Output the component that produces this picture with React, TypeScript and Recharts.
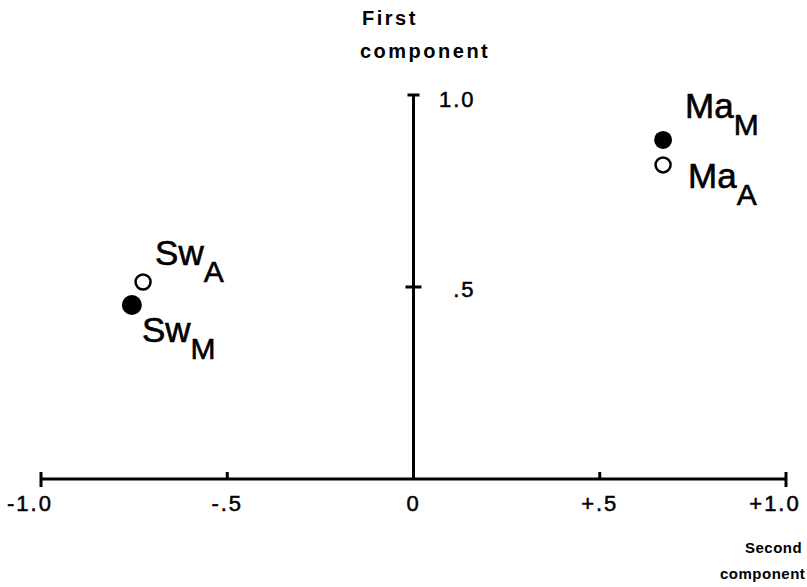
import React from 'react';
import { ScatterChart, Scatter, XAxis, YAxis, ReferenceLine } from 'recharts';

const W = 807;
const H = 587;
const MARGIN = { top: 95, right: 21, bottom: 68, left: 40 };
const X_AXIS_H = 40;
const Y_AXIS_W = 1;
const ZERO_X = MARGIN.left + Y_AXIS_W + (W - MARGIN.left - Y_AXIS_W - MARGIN.right) / 2;
const FONT = '"Liberation Sans", Arial, sans-serif';

// groups and their condition subscripts
const names = ['Sw', 'Sw', 'Ma', 'Ma'];
const subscripts = ['A', 'M', 'M', 'A'];
const secondComponent = [-0.726, -0.756, 0.67, 0.67];
const firstComponent = [0.513, 0.453, 0.883, 0.818];
const solid = [false, true, true, false];

const xTicks = [-1, -0.5, 0, 0.5, 1];
const xTickLabels = ['-1.0', '-.5', '0', '+.5', '+1.0'];
const yTicks = [0.5, 1];
const yTickLabels = ['.5', '1.0'];

const points = names.map((name, i) => ({
  x: secondComponent[i],
  y: firstComponent[i],
  name,
  sub: subscripts[i],
  solid: solid[i],
}));

// label offset from the marker: [dx, dy of baseline]
const LABEL_POS: Record<string, [number, number]> = {
  SwA: [12, -17],
  SwM: [10, 37],
  MaM: [22, -22],
  MaA: [25, 23],
};

const Marker = (props: any) => {
  const { cx, cy, payload } = props;
  const [dx, dy] = LABEL_POS[payload.name + payload.sub] || [15, -15];
  return (
    <g>
      {payload.solid ? (
        <circle cx={cx} cy={cy} r={payload.name === 'Sw' ? 10 : 9} fill="#000" />
      ) : (
        <circle cx={cx} cy={cy} r={7.5} fill="#fff" stroke="#000" strokeWidth={2.5} />
      )}
      <text
        x={cx + dx}
        y={cy + dy}
        fontFamily={FONT}
        fontSize={35}
        fill="#000"
        stroke="#000"
        strokeWidth={0.6}
      >
        {payload.name}
        <tspan dy={17} fontSize={30}>{payload.sub}</tspan>
      </text>
    </g>
  );
};

const XTick = (props: any) => {
  const { x, y, payload } = props;
  const v = payload.value;
  const i = xTicks.indexOf(v);
  const isEnd = Math.abs(v) === 1;
  return (
    <g>
      {v !== 0 && (
        <line x1={x} x2={x} y1={y - 7} y2={isEnd ? y + 8 : y} stroke="#000" strokeWidth={3} />
      )}
      <text
        x={x + (isEnd ? -11 : 0)}
        y={y + 32}
        textAnchor="middle"
        fontFamily={FONT}
        fontSize={22}
        letterSpacing={2}
        fill="#000"
        stroke="#000"
        strokeWidth={0.5}
      >
        {xTickLabels[i]}
      </text>
    </g>
  );
};

const YTick = (props: any) => {
  const { y, payload } = props;
  const v = payload.value;
  const i = yTicks.indexOf(v);
  const half = v === 1 ? 6 : 8;
  return (
    <g>
      <line x1={ZERO_X - half} x2={ZERO_X + half} y1={y} y2={y} stroke="#000" strokeWidth={3} />
      <text
        x={ZERO_X + 62}
        y={y + (v === 1 ? 12 : 10)}
        textAnchor="end"
        fontFamily={FONT}
        fontSize={22}
        letterSpacing={2}
        fill="#000"
        stroke="#000"
        strokeWidth={0.5}
      >
        {yTickLabels[i]}
      </text>
    </g>
  );
};

export default function App() {
  return (
    <div style={{ position: 'absolute', left: 0, top: 0, width: W, height: H, background: '#fff' }}>
      <ScatterChart width={W} height={H} margin={MARGIN}>
        <XAxis
          type="number"
          dataKey="x"
          domain={[-1, 1]}
          ticks={xTicks}
          interval={0}
          height={X_AXIS_H}
          axisLine={{ stroke: '#000', strokeWidth: 3 }}
          tickLine={false}
          tickSize={0}
          tickMargin={0}
          tick={<XTick />}
        />
        <YAxis
          type="number"
          dataKey="y"
          domain={[0, 1]}
          ticks={yTicks}
          interval={0}
          width={Y_AXIS_W}
          axisLine={false}
          tickLine={false}
          tickSize={0}
          tickMargin={0}
          tick={<YTick />}
        />
        <ReferenceLine x={0} stroke="#000" strokeWidth={3} />
        <Scatter data={points} shape={<Marker />} isAnimationActive={false} />
      </ScatterChart>
      <svg
        width={W}
        height={H}
        style={{ position: 'absolute', left: 0, top: 0, pointerEvents: 'none' }}
      >
        <g fontFamily={FONT} fontWeight="bold" fill="#000">
          <text x={362} y={25} fontSize={20} letterSpacing={2.5}>First</text>
          <text x={360} y={58} fontSize={20} letterSpacing={2.5}>component</text>
          <text x={745} y={553} fontSize={15} letterSpacing={0.5}>Second</text>
          <text x={720} y={579} fontSize={15} letterSpacing={0.5}>component</text>
        </g>
      </svg>
    </div>
  );
}
